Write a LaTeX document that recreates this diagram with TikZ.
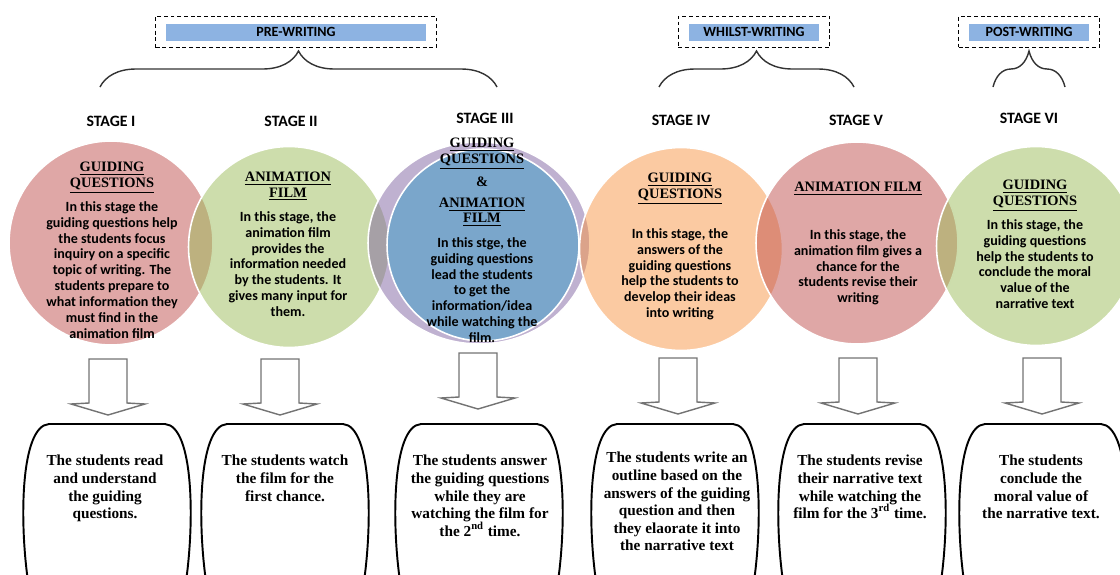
\documentclass[tikz,border=0pt]{standalone}
\usepackage{fontspec}
\setmainfont{Liberation Serif}
\newfontfamily\calibri{Carlito}
\usepackage{tikz}
\usetikzlibrary{shapes.geometric,decorations.pathreplacing,fit}

\definecolor{stagered}{HTML}{C0504D}
\definecolor{stagegreen}{HTML}{9BBB59}
\definecolor{stagepurple}{HTML}{8064A2}
\definecolor{stageorange}{HTML}{F79646}
\definecolor{stageblue}{RGB}{122,166,203}
\definecolor{phaseblue}{RGB}{141,179,226}
\definecolor{arrowgray}{RGB}{115,115,115}

\begin{document}
\begin{tikzpicture}
	[x=0.02cm, y=-0.02cm,
	phase/.style={fill=phaseblue, font=\calibri\bfseries\fontsize{8}{9}\selectfont, minimum height=0.34cm, inner sep=0},
	phasebox/.style={draw, dash pattern=on 2.2pt off 1.6pt, line width=0.6pt, inner xsep=0.2cm, inner ysep=0.14cm},
	phasebrace/.style={decorate, decoration={brace, amplitude=0.72cm}, line width=0.8pt, black!80},
	stage/.style={font=\calibri\bfseries\fontsize{9}{10}\selectfont},
	bubble/.style={circle, draw=white, line width=0.9pt, fill opacity=0.5, inner sep=0},
	ctitle/.style={font=\bfseries\fontsize{8.2}{8.8}\selectfont, align=center, inner sep=0, anchor=north},
	cbody/.style={font=\calibri\bfseries\fontsize{8}{9.05}\selectfont, align=center, inner sep=0, anchor=north},
	blockarrow/.style={draw=arrowgray, line width=0.8pt, fill=white, line join=miter},
	barrel/.style={draw, line width=1.1pt},
	btext/.style={font=\bfseries\fontsize{8.7}{10}\selectfont, align=center, inner sep=0, anchor=north}]

	\useasboundingbox (0,0) rectangle (1120,575);
	\clip (0,0) rectangle (1120,575);

	% phases
	\node[phase, minimum width=5.2cm] (pre) at (296,32) {PRE-WRITING};
	\node[phase, minimum width=2.62cm] (whilst) at (754,32) {WHILST-WRITING};
	\node[phase, minimum width=2.4cm] (post) at (1029,32) {POST-WRITING};
	\node[phasebox, fit=(pre)] (preframe) {};
	\node[phasebox, fit=(whilst)] (whilstframe) {};
	\node[phasebox, fit=(post)] (postframe) {};

	\draw[phasebrace] (100,87) -- (497,87);
	\draw[phasebrace] (659,87) -- (854,87);
	\draw[phasebrace] (993,87) -- (1065,87);

	% stages
	\node[stage] (s1) at (111,121) {STAGE I};
	\node[stage] (s2) at (291,121) {STAGE II};
	\node[stage] (s3) at (485,118) {STAGE III};
	\node[stage] (s4) at (681,120) {STAGE IV};
	\node[stage] (s5) at (856,120) {STAGE V};
	\node[stage] (s6) at (1029,118) {STAGE VI};

	% bubbles
	\node[bubble, fill=stagered, minimum size=4.08cm] (c1) at (111,243) {};
	\node[bubble, fill=stagegreen, minimum size=4.02cm] (c2) at (289,247) {};
	\node[bubble, ellipse, fill=stagepurple, minimum width=4.44cm, minimum height=4.04cm] (c3) at (479,243) {};
	\node[bubble, fill=stageblue, fill opacity=1, minimum size=3.84cm] (c3in) at (483,245) {};
	\node[bubble, fill=stageorange, minimum size=4.06cm] (c4) at (681,249) {};
	\node[bubble, fill=stagered, minimum size=4.04cm] (c5) at (857,243) {};
	\node[bubble, fill=stagegreen, minimum size=3.98cm] (c6) at (1036,246) {};

	\node[ctitle] (t1) at (112,162) {\underline{GUIDING}\\\underline{QUESTIONS}};
	\node[cbody] (d1) at (112,201) {In this stage the\\guiding questions help\\the students focus\\inquiry on a specific\\topic of writing. The\\students prepare to\\what information they\\must find in the\\animation film};

	\node[ctitle] (t2) at (288,172) {\underline{ANIMATION}\\\underline{FILM}};
	\node[cbody] (d2) at (288,211) {In this stage, the\\animation film\\provides the\\information needed\\by the students. It\\gives many input for\\them.};

	\node[ctitle] (t3) at (482,138) {\underline{GUIDING}\\\underline{QUESTIONS}\\[4.3pt]\&\\[3.1pt]A\underline{NIMATION}\\\underline{FILM}};
	\node[cbody] (d3) at (482,237) {In this stge, the\\guiding questions\\lead the students\\to get the\\information/idea\\while watching the\\film.};

	\node[ctitle] (t4) at (680,173) {\underline{GUIDING}\\\underline{QUESTIONS}};
	\node[cbody] (d4) at (680,228) {In this stage, the\\answers of the\\guiding questions\\help the students to\\develop their ideas\\into writing};

	\node[ctitle] (t5) at (858,182) {\underline{ANIMATION FILM}};
	\node[cbody] (d5) at (858,229) {In this stage, the\\animation film gives a\\chance for the\\students revise their\\writing};

	\node[ctitle] (t6) at (1035,180) {\underline{GUIDING}\\\underline{QUESTIONS}};
	\node[cbody] (d6) at (1035,219) {In this stage, the\\guiding questions\\help the students to\\conclude the moral\\value of the\\narrative text};

	% down arrows
	\foreach \x/\t in {108/359, 280/359, 478/353, 678/358, 858/358, 1042/358}
		\draw[blockarrow] (\x-19,\t) -- (\x+19,\t) -- (\x+19,\t+44) -- (\x+37,\t+45)
			-- (\x,\t+56) -- (\x-37,\t+45) -- (\x-19,\t+44) -- cycle;

	% result boxes
	\foreach \x in {107, 285, 479, 675, 862, 1043}
		\draw[barrel] (\x-78,588) .. controls (\x-88,525) and (\x-87,426) .. (\x-58,424)
			-- (\x+58,424) .. controls (\x+87,426) and (\x+88,525) .. (\x+78,588);

	\node[btext] (b1) at (105,455) {The students read\\and understand\\the guiding\\questions.};
	\node[btext] (b2) at (285,455) {The students watch\\the film for the\\first chance.};
	\node[btext] (b3) at (480,455) {The students answer\\the guiding questions\\while they are\\watching the film for\\the 2\textsuperscript{nd} time.};
	\node[btext] (b4) at (677,452) {The students write an\\outline based on the\\answers of the guiding\\question and then\\they elaorate it into\\the narrative text};
	\node[btext] (b5) at (860,455) {The students revise\\their narrative text\\while watching the\\film for the 3\textsuperscript{rd} time.};
	\node[btext] (b6) at (1041,455) {The students\\conclude the\\moral value of\\the narrative text.};
\end{tikzpicture}
\end{document}
